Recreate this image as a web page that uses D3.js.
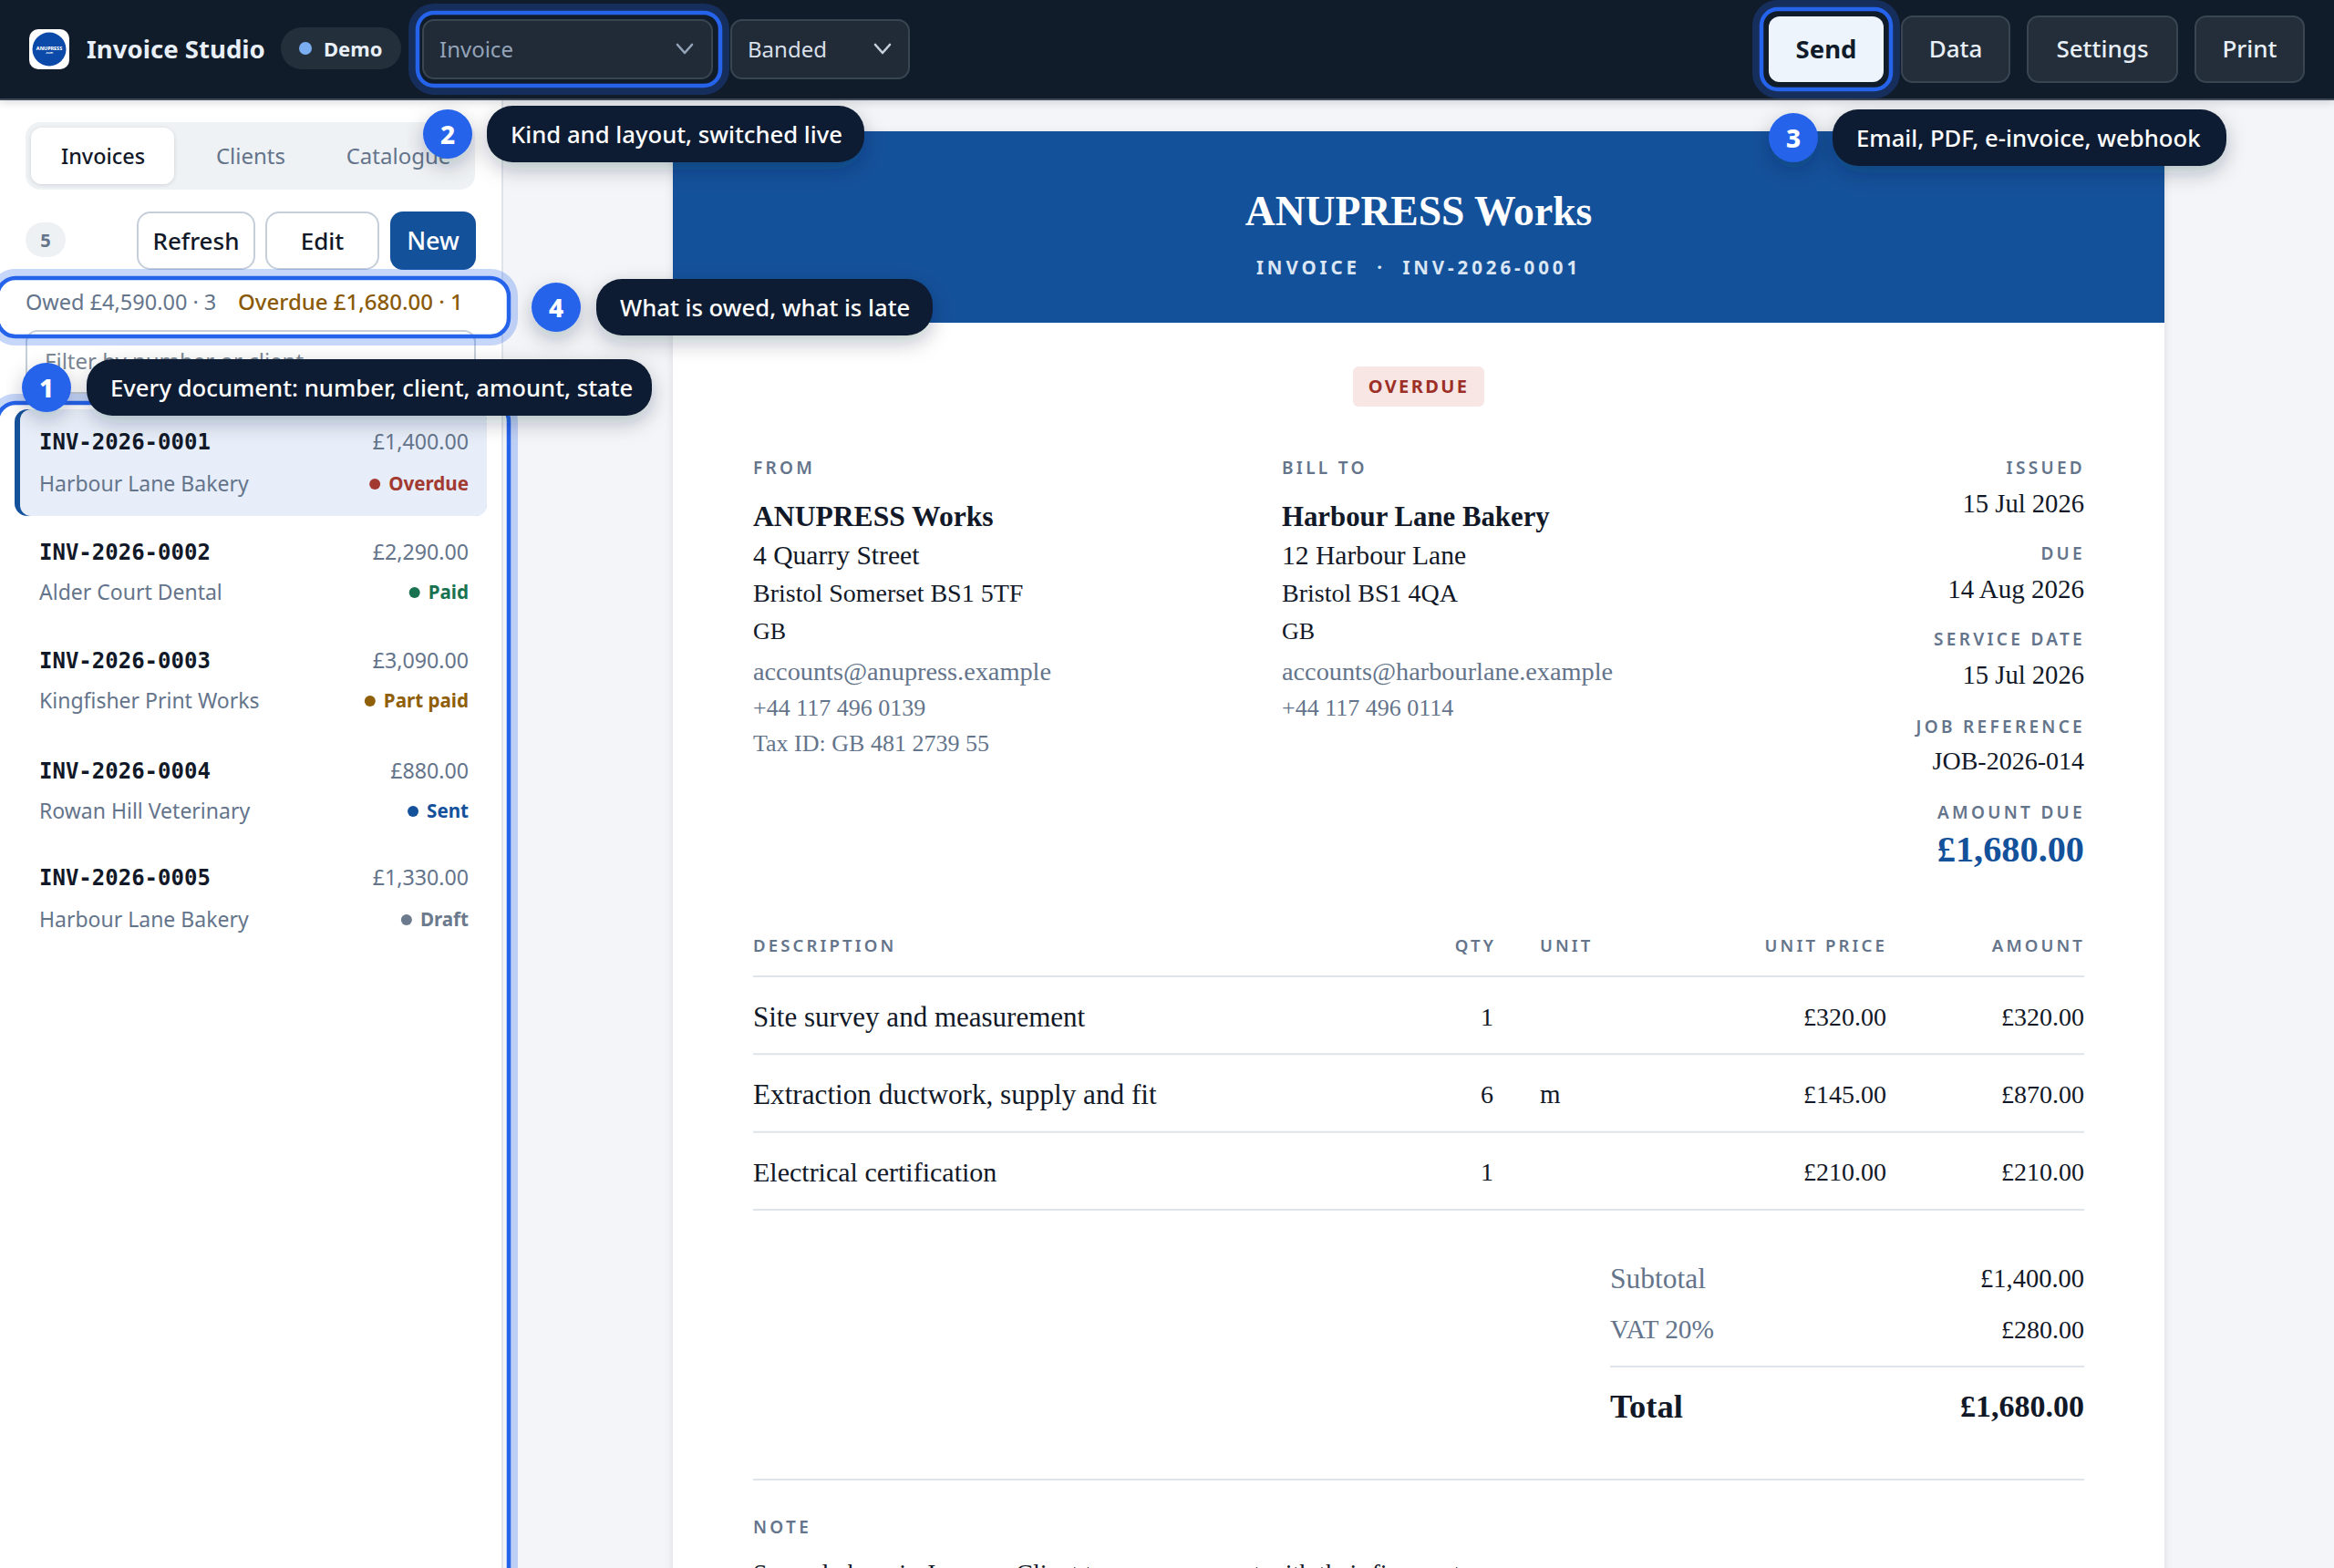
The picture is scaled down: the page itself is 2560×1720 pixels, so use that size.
<!DOCTYPE html>
<html>
<head>
<meta charset="utf-8">
<title>Invoice Studio</title>
<script src="https://cdn.jsdelivr.net/npm/d3@7"></script>
<style>
  html, body { margin: 0; padding: 0; background: #f3f5f8; overflow: hidden; }
  svg { display: block; }
  text { font-family: "Noto Sans", sans-serif; }
  .serif { font-family: "Liberation Serif", serif; }
  .mono { font-family: "DejaVu Sans Mono", monospace; }
</style>
</head>
<body>
<svg id="app" width="2560" height="1720" viewBox="0 0 2560 1720"></svg>
<script>
// ---- data ----
var invoiceIds = ["INV-2026-0001", "INV-2026-0002", "INV-2026-0003", "INV-2026-0004", "INV-2026-0005"];
var invoiceClients = ["Harbour Lane Bakery", "Alder Court Dental", "Kingfisher Print Works", "Rowan Hill Veterinary", "Harbour Lane Bakery"];
var invoiceAmounts = [1400, 2290, 3090, 880, 1330];
var invoiceStates = ["Overdue", "Paid", "Part paid", "Sent", "Draft"];
var stateColors = ["#a33a32", "#1a7350", "#8f5f0a", "#14519b", "#6b7a8c"];

var lineDescriptions = ["Site survey and measurement", "Extraction ductwork, supply and fit", "Electrical certification"];
var lineQty = [1, 6, 1];
var lineUnits = ["", "m", ""];
var lineUnitPrices = [320, 145, 210];
var lineAmounts = [320, 870, 210];

var tableHeads = ["DESCRIPTION", "QTY", "UNIT", "UNIT PRICE", "AMOUNT"];
var fromLines = ["4 Quarry Street", "Bristol Somerset BS1 5TF", "GB"];
var fromContact = ["accounts@anupress.example", "+44 117 496 0139", "Tax ID: GB 481 2739 55"];
var billLines = ["12 Harbour Lane", "Bristol BS1 4QA", "GB"];
var billContact = ["accounts@harbourlane.example", "+44 117 496 0114"];
var metaLabels = ["ISSUED", "DUE", "SERVICE DATE", "JOB REFERENCE"];
var metaValues = ["15 Jul 2026", "14 Aug 2026", "15 Jul 2026", "JOB-2026-014"];
var topActions = ["Data", "Settings", "Print"];
var tabNames = ["Invoices", "Clients", "Catalogue"];
var calloutTexts = ["Every document: number, client, amount, state", "Kind and layout, switched live", "Email, PDF, e-invoice, webhook", "What is owed, what is late"];

var NAVY = "#111c2b", BLUE = "#14519b", RING = "#2563eb", SLATE = "#64748b", INK = "#111827", RULE = "#dfe4ea";
var money = function (v) { return "£" + d3.format(",.2f")(v); };

var svg = d3.select("#app");
var defs = svg.append("defs");

function shadow(id, dy, blur, op) {
  var f = defs.append("filter").attr("id", id)
    .attr("x", "-30%").attr("y", "-60%").attr("width", "160%").attr("height", "240%");
  f.append("feDropShadow").attr("dx", 0).attr("dy", dy).attr("stdDeviation", blur)
    .attr("flood-color", "#0f172a").attr("flood-opacity", op);
}
shadow("callout", 8, 11, 0.26);
shadow("bar", 2, 5, 0.16);
shadow("tab", 1, 2, 0.14);
var pf = defs.append("filter").attr("id", "page").attr("x", "-3%").attr("y", "-3%").attr("width", "106%").attr("height", "106%");
pf.append("feDropShadow").attr("dx", 0).attr("dy", 2).attr("stdDeviation", 5).attr("flood-color", "#0f172a").attr("flood-opacity", 0.1);

// small text helper
function label(g, x, y, str, o) {
  o = o || {};
  return g.append("text")
    .attr("x", x).attr("y", y).attr("dy", "0.35em")
    .attr("class", o.cls || null)
    .attr("text-anchor", o.anchor || "start")
    .attr("font-size", o.size || 24)
    .attr("font-weight", o.weight || 400)
    .attr("letter-spacing", o.ls || null)
    .attr("fill", o.fill || INK)
    .text(str);
}
function box(g, x, y, w, h, r, fill, stroke, sw) {
  return g.append("rect").attr("x", x).attr("y", y).attr("width", w).attr("height", h).attr("rx", r)
    .attr("fill", fill || "none").attr("stroke", stroke || "none").attr("stroke-width", sw || 0);
}
function chevron(g, cx, cy, col) {
  g.append("path").attr("d", d3.line()([[cx - 8, cy - 5], [cx, cy + 4], [cx + 8, cy - 5]]))
    .attr("fill", "none").attr("stroke", col).attr("stroke-width", 2.6)
    .attr("stroke-linecap", "round").attr("stroke-linejoin", "round");
}
// highlight ring: solid edge with a soft halo outside it only
function ring(g, x, y, w, h, r) {
  box(g, x - 6, y - 6, w + 12, h + 12, r + 6, "none", RING, 8).attr("stroke-opacity", 0.26);
  box(g, x, y, w, h, r, "none", RING, 4.5);
}

// ---- main area + invoice sheet ----
var page = svg.append("g");
box(page, 0, 0, 2560, 1720, 0, "#f3f5f8");
box(page, 738, 144, 1636, 1620, 0, "#fff").attr("filter", "url(#page)");
box(page, 738, 144, 1636, 210, 0, BLUE);
label(page, 1556, 231, "ANUPRESS Works", { cls: "serif", anchor: "middle", size: 45.6, weight: 700, fill: "#fff" });
label(page, 1556, 294, "INVOICE  ·  INV-2026-0001", { anchor: "middle", size: 20.5, weight: 700, ls: 3.9, fill: "#dbe6f4" }).style("white-space", "pre");
box(page, 1484, 402, 144, 44, 6, "#f7e6e4");
label(page, 1556, 424, "OVERDUE", { anchor: "middle", size: 20, weight: 700, ls: 2.4, fill: "#9c2f26" });

var smallHead = { size: 19, weight: 600, ls: 3.3, fill: SLATE };
var addrY = d3.scalePoint().domain(d3.range(3)).range([609, 692]);
var conY = d3.scalePoint().domain(d3.range(3)).range([736, 815]);
var addrSizes = [29.6, 28, 26];
var conSizes = [28.3, 26, 26];
function party(x, head, name, nameSize, lines, contact) {
  label(page, x, 513, head, smallHead);
  label(page, x, 566, name, { cls: "serif", size: nameSize, weight: 700, fill: INK });
  lines.forEach(function (s, i) { label(page, x, addrY(i), s, { cls: "serif", size: addrSizes[i] }); });
  contact.forEach(function (s, i) { label(page, x, conY(i), s, { cls: "serif", size: conSizes[i], fill: SLATE }); });
}
party(826, "FROM", "ANUPRESS Works", 31.6, fromLines, fromContact);
party(1406, "BILL TO", "Harbour Lane Bakery", 30.8, billLines, billContact);

var META_R = 2286, HEAD_R = 2287;
var metaY = [513, 607, 701, 797];
var metaValY = [552, 646, 740, 834];
var metaSizes = [28.6, 29, 28.6, 28];
metaLabels.forEach(function (s, i) {
  label(page, HEAD_R, metaY[i], s, Object.assign({ anchor: "end" }, smallHead));
  label(page, META_R, metaValY[i], metaValues[i], { cls: "serif", anchor: "end", size: metaSizes[i] });
});
label(page, HEAD_R, 891, "AMOUNT DUE", Object.assign({ anchor: "end" }, smallHead));
label(page, META_R, 931, money(invoiceAmounts[0] * 1.2), { cls: "serif", anchor: "end", size: 40.3, weight: 700, fill: BLUE });

// line table
var TL = 826, QTY_R = 1640, UNIT_L = 1689, PRICE_R = 2069, AMT_R = 2286;
var rowLine = d3.scaleLinear().domain([0, 3]).range([1071, 1327]);
var rowText = d3.scalePoint().domain(d3.range(3)).range([1115, 1285]);
var tableHead = { size: 18.6, weight: 600, ls: 3.1, fill: SLATE };
var headX = [TL, QTY_R + 1, UNIT_L, PRICE_R + 1, AMT_R + 1];
headX.forEach(function (x, i) {
  label(page, x, 1037, tableHeads[i], Object.assign({ anchor: (i === 1 || i > 2) ? "end" : "start" }, tableHead));
});
d3.range(4).forEach(function (i) {
  page.append("line").attr("x1", TL).attr("x2", AMT_R).attr("y1", rowLine(i)).attr("y2", rowLine(i))
    .attr("stroke", RULE).attr("stroke-width", 2);
});
var descSizes = [31, 31.2, 30];
lineDescriptions.forEach(function (s, i) {
  var y = rowText(i), r = { cls: "serif", size: 28, anchor: "end" };
  label(page, TL, y, s, { cls: "serif", size: descSizes[i] });
  label(page, QTY_R - 2, y, lineQty[i], r);
  label(page, UNIT_L, y, lineUnits[i], { cls: "serif", size: 29 });
  label(page, PRICE_R, y, money(lineUnitPrices[i]), r);
  label(page, AMT_R, y, money(lineAmounts[i]), r);
});

// totals
var TOT_L = 1766;
var subtotal = d3.sum(lineAmounts), vat = subtotal * 0.2;
label(page, TOT_L, 1402, "Subtotal", { cls: "serif", size: 31.5, fill: SLATE });
label(page, AMT_R, 1402, money(subtotal), { cls: "serif", size: 28.5, anchor: "end" });
label(page, TOT_L, 1458, "VAT 20%", { cls: "serif", size: 29.4, fill: SLATE });
label(page, AMT_R, 1458, money(vat), { cls: "serif", size: 28, anchor: "end" });
page.append("line").attr("x1", TOT_L).attr("x2", AMT_R).attr("y1", 1499).attr("y2", 1499).attr("stroke", RULE).attr("stroke-width", 2);
label(page, TOT_L, 1542, "Total", { cls: "serif", size: 36.5, weight: 700 });
label(page, AMT_R, 1542, money(subtotal + vat), { cls: "serif", size: 34, weight: 700, anchor: "end" });
page.append("line").attr("x1", TL).attr("x2", AMT_R).attr("y1", 1623).attr("y2", 1623).attr("stroke", RULE).attr("stroke-width", 2);
label(page, TL, 1675, "NOTE", smallHead);
// only the tops of this line are on screen in the reference
label(page, TL, 1725, "Second phase in January. Client to agree payment with their finance team.", { cls: "serif", size: 28 });

// ---- sidebar ----
var side = svg.append("g");
box(side, 0, 108, 551, 1612, 0, "#fff");
side.append("line").attr("x1", 551).attr("x2", 551).attr("y1", 108).attr("y2", 1720).attr("stroke", RULE).attr("stroke-width", 2);

box(side, 28, 134, 493, 74, 16, "#eff2f5");
box(side, 34, 140, 157, 62, 12, "#fff").attr("filter", "url(#tab)");
var tabX = [113, 275, 437];
var tabSizes = [23.4, 24, 24];
tabNames.forEach(function (s, i) {
  label(side, tabX[i], 172, s, { anchor: "middle", size: tabSizes[i], weight: i === 0 ? 500 : 400, fill: i === 0 ? INK : SLATE });
});

box(side, 28, 244, 44, 38, 19, "#eef1f4");
label(side, 50, 264, invoiceIds.length, { anchor: "middle", size: 20, weight: 700, fill: SLATE });
var sideBtnNames = ["Refresh", "Edit"];
var sideBtnX = [151, 292];
var sideBtnW = [128, 123];
sideBtnNames.forEach(function (s, i) {
  box(side, sideBtnX[i], 233, sideBtnW[i], 62, 14, "#fff", "#c5ced9", 2);
  label(side, sideBtnX[i] + sideBtnW[i] / 2, 265, s, { anchor: "middle", size: 26, weight: 500 });
});
box(side, 428, 232, 94, 64, 14, BLUE);
label(side, 475, 265, "New", { anchor: "middle", size: 27, weight: 500, fill: "#fff" });

box(side, 29, 363, 492, 68, 12, "#fff", "#c5ced9", 2);
label(side, 49, 397, "Filter by number or client", { size: 24, fill: "#7b8794" });

// owed strip sits over the filter box, whose top edge still shows through
box(side, -4, 305, 561, 63, 20, "#fff");
box(side, 29, 363, 492, 68, 12, "none", "#c5ced9", 2);
label(side, 28, 332, "Owed £4,590.00 · 3", { size: 23.5, fill: SLATE });
label(side, 261, 332, "Overdue £1,680.00 · 1", { size: 24, weight: 500, fill: "#8a5a08" });

// document list
var idY = [485, 606, 725, 846, 963];
var clientY = [531, 650, 769, 890, 1009];
box(side, 16, 449, 518, 117, 14, BLUE);
side.append("path").attr("fill", "#e7eef9")
  .attr("d", "M534,461 a12,12 0 0 0 -12,-12 H34 a12,12 0 0 0 -12,12 V554 a12,12 0 0 0 12,12 H522 a12,12 0 0 0 12,-12 Z");
invoiceIds.forEach(function (id, i) {
  label(side, 43, idY[i], id, { cls: "mono", size: 24, weight: 700 });
  label(side, 514, idY[i], money(invoiceAmounts[i]), { anchor: "end", size: 23.2, fill: SLATE });
  label(side, 43, clientY[i], invoiceClients[i], { size: 23, fill: SLATE });
  var t = label(side, 514, clientY[i], invoiceStates[i], { anchor: "end", size: 20.6, weight: 700, fill: stateColors[i] });
  var w = t.node().getComputedTextLength();
  side.append("circle").attr("cx", 514 - w - 15).attr("cy", clientY[i]).attr("r", 6).attr("fill", stateColors[i]);
});

// ---- top bar ----
var bar = svg.append("g");
box(bar, 0, 0, 2560, 110, 0, "#3f4a56").attr("filter", "url(#bar)");
box(bar, 0, 0, 2560, 108, 0, NAVY);
box(bar, 32, 32, 44, 44, 10, "#fff");
bar.append("circle").attr("cx", 54).attr("cy", 54).attr("r", 18.5).attr("fill", "#0b4aa8");
label(bar, 54, 53, "ANUPRESS", { anchor: "middle", size: 5.4, weight: 800, fill: "#fff" });
label(bar, 54, 58, ".com", { anchor: "middle", size: 3.6, weight: 600, fill: "#fff" });
label(bar, 95, 54, "Invoice Studio", { size: 27.6, weight: 700, fill: "#e8eff7" });
box(bar, 308, 30, 132, 46, 23, "#242f3c");
bar.append("circle").attr("cx", 335).attr("cy", 53).attr("r", 7).attr("fill", "#7aaef0");
label(bar, 355, 54, "Demo", { size: 22, weight: 700, fill: "#e8eff7" });

box(bar, 464, 22, 317, 64, 12, "#202b37", "#3a4552", 2);
label(bar, 482, 55, "Invoice", { size: 24, fill: "#94a3b8" });
chevron(bar, 751, 54, "#94a3b8");
box(bar, 802, 22, 195, 64, 12, "#202b37", "#3a4552", 2);
label(bar, 820, 55, "Banded", { size: 24, fill: "#d8dfe8" });
chevron(bar, 968, 54, "#c7d0da");

box(bar, 1940, 18, 126, 72, 12, "#eef4fc");
label(bar, 2003, 54, "Send", { anchor: "middle", size: 27.5, weight: 700, fill: NAVY });
var topX = [2086, 2224, 2408], topW = [118, 164, 119];
topActions.forEach(function (s, i) {
  box(bar, topX[i], 18, topW[i], 72, 12, "#232e3a", "#3a4552", 2);
  label(bar, topX[i] + topW[i] / 2, 54, s, { anchor: "middle", size: 26, weight: 500, fill: "#e8eff7" });
});

// ---- highlight rings ----
var rings = svg.append("g");
ring(rings, -3, 442, 561, 1320, 20);
ring(rings, -3, 305, 561, 64, 20);
ring(rings, 458, 14, 332, 80, 18);
ring(rings, 1932, 10, 142, 88, 18);

// ---- callouts ----
var calloutBadgeX = [51, 491, 1967, 610];
var calloutBadgeY = [425, 147, 151, 337];
var calloutPillX = [95, 534, 2010, 654];
var calloutPillW = [620, 414, 432, 369];
var callouts = svg.append("g");
calloutTexts.forEach(function (s, i) {
  var g = callouts.append("g");
  g.append("circle").attr("cx", calloutBadgeX[i]).attr("cy", calloutBadgeY[i]).attr("r", 27)
    .attr("fill", RING).attr("filter", "url(#callout)");
  label(g, calloutBadgeX[i], calloutBadgeY[i] + 1, i + 1, { anchor: "middle", size: 28, weight: 800, fill: "#fff" });
  box(g, calloutPillX[i], calloutBadgeY[i] - 31, calloutPillW[i], 62, 28, "#111c30").attr("filter", "url(#callout)");
  label(g, calloutPillX[i] + 26, calloutBadgeY[i] + 1.5, s, { size: 25.7, weight: 500, fill: "#fff" });
});
</script>
</body>
</html>
